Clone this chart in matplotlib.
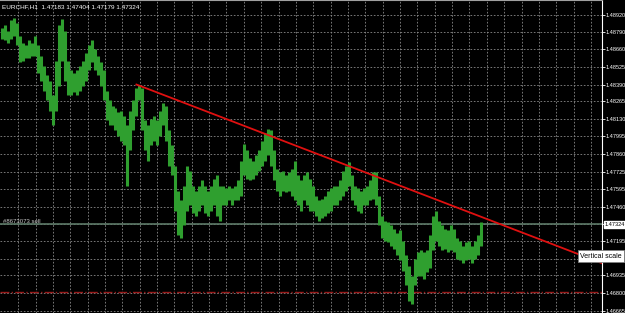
import numpy as np
import matplotlib
matplotlib.use("Agg")
import matplotlib.pyplot as plt

# EURCHF H1 bars, highs and lows (left to right)
highs = [
    1.4882, 1.4884, 1.4880, 1.4888, 1.4890, 1.4886, 1.4876, 1.4871, 1.4869, 1.4873,
    1.4871, 1.4876, 1.4869, 1.4861, 1.4853, 1.4846, 1.4842, 1.4831, 1.4857, 1.4884,
    1.4889, 1.4880, 1.4857, 1.4850, 1.4848, 1.4850, 1.4853, 1.4857, 1.4863, 1.4869,
    1.4873, 1.4866, 1.4861, 1.4856, 1.4850, 1.4834, 1.4827, 1.4823, 1.4821, 1.4818,
    1.4819, 1.4815, 1.4808, 1.4819, 1.4827, 1.4836, 1.4839, 1.4836, 1.4812, 1.4808,
    1.4813, 1.4815, 1.4812, 1.4819, 1.4825, 1.4823, 1.4804, 1.4793, 1.4777, 1.4758,
    1.4751, 1.4762, 1.4777, 1.4773, 1.4762, 1.4758, 1.4762, 1.4766, 1.4762, 1.4758,
    1.4762, 1.4767, 1.4770, 1.4762, 1.4762, 1.4760, 1.4762, 1.4760, 1.4762, 1.4766,
    1.4781, 1.4794, 1.4789, 1.4783, 1.4781, 1.4785, 1.4789, 1.4796, 1.4802, 1.4805,
    1.4804, 1.4789, 1.4775, 1.4772, 1.4773, 1.4770, 1.4772, 1.4775, 1.4781, 1.4770,
    1.4766, 1.4770, 1.4772, 1.4767, 1.4762, 1.4754, 1.4751, 1.4752, 1.4754, 1.4758,
    1.4760, 1.4762, 1.4762, 1.4766, 1.4773, 1.4777, 1.4780, 1.4770, 1.4762, 1.4760,
    1.4758, 1.4760, 1.4762, 1.4766, 1.4772, 1.4772, 1.4754, 1.4739, 1.4735, 1.4734,
    1.4732, 1.4729, 1.4726, 1.4728, 1.4720, 1.4709, 1.4701, 1.4693, 1.4706, 1.4711,
    1.4713, 1.4711, 1.4713, 1.4724, 1.4739, 1.4743, 1.4735, 1.4732, 1.4729, 1.4728,
    1.4732, 1.4729, 1.4722, 1.4720, 1.4716, 1.4719, 1.4720, 1.4716, 1.4720, 1.4724,
    1.4734,
]
lows = [
    1.4874, 1.4873, 1.4871, 1.4874, 1.4876, 1.4869, 1.4856, 1.4857, 1.4859, 1.4859,
    1.4861, 1.4861, 1.4848, 1.4842, 1.4834, 1.4827, 1.4819, 1.4808, 1.4819, 1.4838,
    1.4857, 1.4842, 1.4831, 1.4831, 1.4833, 1.4831, 1.4834, 1.4838, 1.4842, 1.4850,
    1.4856, 1.4850, 1.4846, 1.4838, 1.4827, 1.4812, 1.4808, 1.4808, 1.4804, 1.4800,
    1.4796, 1.4793, 1.4762, 1.4789, 1.4804, 1.4815, 1.4827, 1.4804, 1.4789, 1.4781,
    1.4793, 1.4796, 1.4793, 1.4800, 1.4808, 1.4796, 1.4777, 1.4770, 1.4743, 1.4724,
    1.4722, 1.4732, 1.4743, 1.4747, 1.4741, 1.4739, 1.4743, 1.4747, 1.4741, 1.4739,
    1.4743, 1.4747, 1.4739, 1.4735, 1.4747, 1.4747, 1.4751, 1.4747, 1.4751, 1.4751,
    1.4754, 1.4770, 1.4767, 1.4766, 1.4767, 1.4770, 1.4773, 1.4777, 1.4781, 1.4785,
    1.4777, 1.4766, 1.4758, 1.4754, 1.4758, 1.4757, 1.4758, 1.4754, 1.4751, 1.4747,
    1.4743, 1.4751, 1.4747, 1.4743, 1.4743, 1.4739, 1.4735, 1.4737, 1.4739, 1.4741,
    1.4743, 1.4747, 1.4747, 1.4751, 1.4754, 1.4758, 1.4762, 1.4751, 1.4747, 1.4743,
    1.4741, 1.4747, 1.4747, 1.4751, 1.4752, 1.4747, 1.4732, 1.4722, 1.4720, 1.4719,
    1.4716, 1.4714, 1.4709, 1.4705, 1.4697, 1.4686, 1.4674, 1.4672, 1.4686, 1.4693,
    1.4693, 1.4691, 1.4696, 1.4699, 1.4713, 1.4720, 1.4716, 1.4713, 1.4714, 1.4711,
    1.4713, 1.4711, 1.4706, 1.4705, 1.4703, 1.4705, 1.4706, 1.4703, 1.4706, 1.4709,
    1.4716,
]

price_ticks = [1.48920, 1.48790, 1.48660, 1.48525, 1.48390, 1.48265, 1.48130,
               1.47995, 1.47860, 1.47725, 1.47595, 1.47460, 1.47330, 1.47195,
               1.47060, 1.46935, 1.46800, 1.46665]
# 1.47330 sits under the bid box, 1.47060 under the tooltip
price_labels = ["1.48920", "1.48790", "1.48660", "1.48525", "1.48390", "1.48265",
                "1.48130", "1.47995", "1.47860", "1.47725", "1.47595", "1.47460",
                "", "1.47195", "", "1.46935", "1.46800", "1.46665"]

title = "EURCHF,H1  1.47183 1.47404 1.47179 1.47324"
bid = 1.47324
order_label = "#8673073 sell"
stop_level = 1.4681
trend_pts = [(45, 1.4839), (157, 1.4741)]  # bar index, price

W, H = 625, 313
fig = plt.figure(figsize=(W / 100, H / 100), dpi=100, facecolor="black")
ax = fig.add_axes([0, 0, 602 / W, 1])
ax.set_facecolor("black")

x = np.arange(len(highs))
ax.vlines(x, lows, highs, color="#2f9f2f", linewidth=2.2, zorder=3)

xmax = 200.6
ax.set_xlim(-0.6, xmax)
ax.set_ylim(1.46649, 1.49034)

# grid
for gx in np.arange(5.5, xmax, 5.8):
    ax.axvline(gx, color="#8a8a8a", linewidth=0.6, linestyle=(0, (2, 2)), zorder=1)
for gy in price_ticks:
    ax.axhline(gy, color="#8a8a8a", linewidth=0.6, linestyle=(0, (2, 2)), zorder=1)

# trend line (ray to the right)
(x0, y0), (x1, y1) = trend_pts
slope = (y1 - y0) / (x1 - x0)
ax.plot([x0, xmax], [y0, y0 + slope * (xmax - x0)], color="#e01010", linewidth=1.3, zorder=4)

# order line and stop level
ax.axhline(bid, color="#5d7a68", linewidth=1.2, zorder=2)
ax.axhline(stop_level, color="#9a1a1a", linewidth=1.0, linestyle="-.", zorder=2)
ax.text(0.5, bid + 0.00004, order_label, color="#c8c8c8", fontsize=4.3,
        family="Liberation Sans", va="bottom", ha="left", zorder=5)

ax.text(0.004, 0.985, title, transform=ax.transAxes, color="white", fontsize=4.6,
        family="Liberation Sans", va="top", ha="left")

# price scale
ax.yaxis.tick_right()
ax.set_yticks(price_ticks)
ax.set_yticklabels(price_labels)
ax.tick_params(axis="y", colors="white", labelcolor="white", labelsize=4.0,
               length=2, width=0.6, direction="out", pad=0.8)
for lab in ax.get_yticklabels():
    lab.set_family("Liberation Sans")
ax.set_xticks([])
for side in ["left", "bottom"]:
    ax.spines[side].set_visible(False)
ax.spines["right"].set_color("white")
ax.spines["right"].set_linewidth(0.8)
ax.spines["top"].set_color("#a0a0a0")
ax.spines["top"].set_linewidth(0.8)

# current price box
fig.text(605 / W, ax.transData.transform((0, bid))[1] / H, "1.47324", fontsize=4.0,
         family="Liberation Sans", color="black", va="center", ha="left",
         bbox=dict(boxstyle="square,pad=0.12", facecolor="white", edgecolor="white"))

# tooltip
fig.text(580 / W, 1 - 256 / H, "Vertical scale", fontsize=5.0, family="Liberation Sans",
         color="black", va="center", ha="left",
         bbox=dict(boxstyle="square,pad=0.3", facecolor="white", edgecolor="#808080",
                   linewidth=0.6))

fig.savefig("out.png", dpi=100, facecolor="black")
